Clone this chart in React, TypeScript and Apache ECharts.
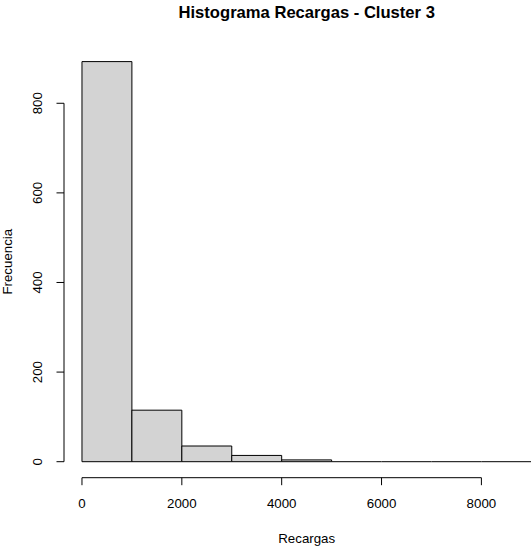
import React, { useEffect, useRef } from "react";
import * as echarts from "echarts";

const breaks = [0, 1000, 2000, 3000, 4000, 5000, 6000, 7000, 8000, 9000];
const counts = [893, 115, 35, 14, 4, 0, 0, 0, 0];
const xTicks = [0, 2000, 4000, 6000, 8000];
const yTicks = [0, 200, 400, 600, 800];
const titleText = "Histograma Recargas - Cluster 3";
const xName = "Recargas";
const yName = "Frecuencia";

const X_MIN = -360;
const X_MAX = 9360;
const Y_MIN = -35.72;
const Y_MAX = 928.72;
const FONT = '13.3px "Liberation Sans", Arial, sans-serif';
const TITLE_FONT = 'bold 16.6px "Liberation Sans", Arial, sans-serif';

export default function App() {
  const ref = useRef<HTMLDivElement>(null);
  useEffect(() => {
    document.body.style.margin = "0";
    document.body.style.overflow = "hidden";
    const chart = echarts.init(ref.current!, null, { renderer: "svg" });
    const bins = counts.map((c, i) => [breaks[i], breaks[i + 1], c]);
    chart.setOption({
      animation: false,
      backgroundColor: "#ffffff",
      grid: { left: 64, top: 45.6, width: 485.3, height: 432.1 },
      xAxis: { type: "value", min: X_MIN, max: X_MAX, show: false },
      yAxis: { type: "value", min: Y_MIN, max: Y_MAX, show: false },
      graphic: [
        {
          type: "text",
          x: 306.7,
          y: 12,
          style: { text: titleText, font: TITLE_FONT, fill: "#000", align: "center", verticalAlign: "middle" },
        },
        {
          type: "text",
          x: 306.7,
          y: 538,
          style: { text: xName, font: FONT, fill: "#000", align: "center", verticalAlign: "middle" },
        },
        {
          type: "text",
          x: 7,
          y: 261.7,
          rotation: Math.PI / 2,
          style: { text: yName, font: FONT, fill: "#000", align: "center", verticalAlign: "middle" },
        },
      ],
      series: [
        {
          type: "custom",
          silent: true,
          clip: false,
          data: bins,
          renderItem: (params: any, api: any) => {
            const s = api.value(0);
            const e = api.value(1);
            const c = api.value(2);
            const p0 = api.coord([s, c]);
            const p1 = api.coord([e, 0]);
            if (c === 0) {
              return {
                type: "line",
                shape: { x1: p0[0], y1: p1[1], x2: p1[0], y2: p1[1] },
                style: { stroke: "#000", lineWidth: 1 },
              };
            }
            return {
              type: "rect",
              shape: { x: p0[0], y: p0[1], width: p1[0] - p0[0], height: p1[1] - p0[1] },
              style: { fill: "#d3d3d3", stroke: "#000", lineWidth: 1 },
            };
          },
        },
        {
          type: "custom",
          silent: true,
          clip: false,
          data: xTicks.map((v) => [v, Y_MIN]),
          renderItem: (params: any, api: any) => {
            const v = api.value(0);
            const p = api.coord([v, Y_MIN]);
            const children: any[] = [
              { type: "line", shape: { x1: p[0], y1: p[1], x2: p[0], y2: p[1] + 7.5 }, style: { stroke: "#000", lineWidth: 1 } },
              {
                type: "text",
                x: p[0],
                y: p[1] + 25.5,
                style: { text: String(v), font: FONT, fill: "#000", align: "center", verticalAlign: "middle" },
              },
            ];
            if (params.dataIndex === 0) {
              const a = api.coord([xTicks[0], Y_MIN]);
              const b = api.coord([xTicks[xTicks.length - 1], Y_MIN]);
              children.push({ type: "line", shape: { x1: a[0], y1: a[1], x2: b[0], y2: b[1] }, style: { stroke: "#000", lineWidth: 1 } });
            }
            return { type: "group", children };
          },
        },
        {
          type: "custom",
          silent: true,
          clip: false,
          data: yTicks.map((v) => [X_MIN, v]),
          renderItem: (params: any, api: any) => {
            const v = api.value(1);
            const p = api.coord([X_MIN, v]);
            const children: any[] = [
              { type: "line", shape: { x1: p[0], y1: p[1], x2: p[0] - 7.5, y2: p[1] }, style: { stroke: "#000", lineWidth: 1 } },
              {
                type: "text",
                x: p[0] - 26.5,
                y: p[1],
                rotation: Math.PI / 2,
                style: { text: String(v), font: FONT, fill: "#000", align: "center", verticalAlign: "middle" },
              },
            ];
            if (params.dataIndex === 0) {
              const a = api.coord([X_MIN, yTicks[0]]);
              const b = api.coord([X_MIN, yTicks[yTicks.length - 1]]);
              children.push({ type: "line", shape: { x1: a[0], y1: a[1], x2: b[0], y2: b[1] }, style: { stroke: "#000", lineWidth: 1 } });
            }
            return { type: "group", children };
          },
        },
      ],
    });
    return () => chart.dispose();
  }, []);
  return (
    <div
      ref={ref}
      style={{ position: "fixed", left: 0, top: 0, width: 560, height: 546, background: "#fff" }}
    />
  );
}
